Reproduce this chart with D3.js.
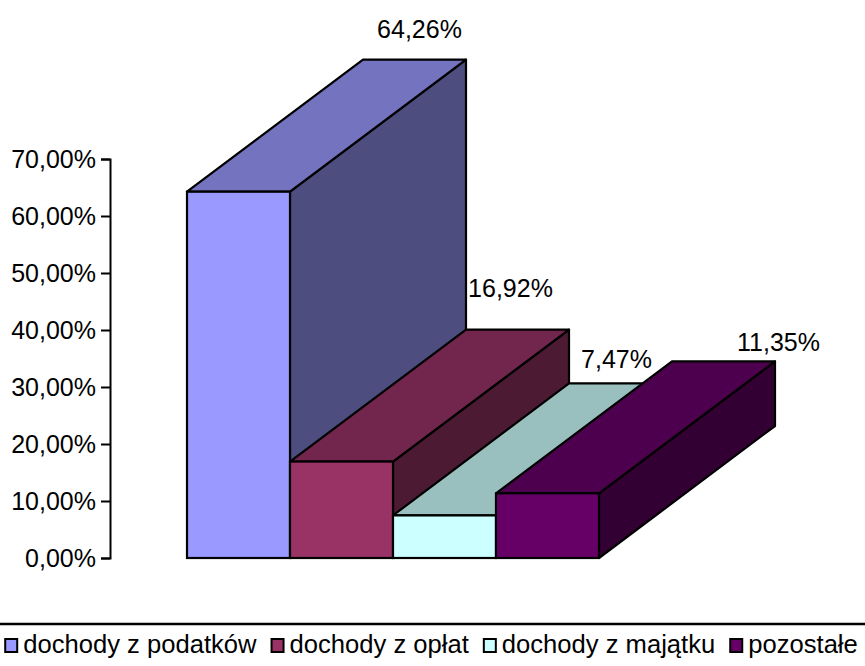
<!DOCTYPE html>
<html><head><meta charset="utf-8">
<script src="https://cdn.jsdelivr.net/npm/d3@7"></script>
<style>body{margin:0;background:#fff}svg{display:block}text{font-family:"Liberation Sans",Arial,sans-serif}</style>
</head><body>
<svg id="c" width="865" height="666"></svg>
<script>
const categories = ["dochody z podatków", "dochody z opłat", "dochody z majątku", "pozostałe"];
const values = [0.6426, 0.1692, 0.0747, 0.1135];
const valueLabels = ["64,26%", "16,92%", "7,47%", "11,35%"];
const yTicks = [0, 0.1, 0.2, 0.3, 0.4, 0.5, 0.6, 0.7];

const frontColors = ["#9999FF", "#993366", "#CCFFFF", "#660066"];
const labelNudge = [[5, -22], [-7, -33], [-4, -15], [55, -10]];

const svg = d3.select("#c");
const depthX = 176, depthY = -132;
const y = d3.scaleLinear().domain([0, 0.7]).range([558, 159]);
const x = d3.scaleBand().domain(categories).range([187, 599]).padding(0);
const shade = (c, k) => { const r = d3.rgb(c); return d3.rgb(r.r * k, r.g * k, r.b * k).formatHex(); };

const locale = d3.formatLocale({decimal: ",", thousands: " ", grouping: [3], currency: ["", " zł"]});
const fmt = locale.format(".2%");

// axis
const ax = svg.append("g").attr("transform", "translate(110,0)")
  .call(d3.axisLeft(y).tickValues(yTicks).tickFormat(fmt).tickSize(9).tickSizeOuter(9).tickPadding(5));
ax.selectAll("path,line").attr("stroke", "#000").attr("stroke-width", 2);
ax.selectAll("text").attr("font-size", 25).attr("fill", "#000").attr("font-family", '"Liberation Sans",Arial,sans-serif');

// bars
const g = svg.append("g");
categories.forEach((c, i) => {
  const x0 = x(c), x1 = x(c) + x.bandwidth();
  const yt = y(values[i]), yb = y(0);
  const col = frontColors[i];
  const poly = pts => pts.map(p => p.join(",")).join(" ");
  g.append("polygon").attr("points", poly([[x1, yb], [x1 + depthX, yb + depthY], [x1 + depthX, yt + depthY], [x1, yt]]))
    .attr("fill", shade(col, 0.5)).attr("stroke", "#000").attr("stroke-width", 2.2).attr("stroke-linejoin", "round");
  g.append("polygon").attr("points", poly([[x0, yt], [x1, yt], [x1 + depthX, yt + depthY], [x0 + depthX, yt + depthY]]))
    .attr("fill", shade(col, 0.75)).attr("stroke", "#000").attr("stroke-width", 2.2).attr("stroke-linejoin", "round");
  g.append("rect").attr("x", x0).attr("y", yt).attr("width", x1 - x0).attr("height", yb - yt)
    .attr("fill", col).attr("stroke", "#000").attr("stroke-width", 2.2);
});

// value labels
categories.forEach((c, i) => {
  const cx = x(c) + x.bandwidth() / 2 + depthX;
  const cy = y(values[i]) + depthY;
  svg.append("text").attr("x", cx + labelNudge[i][0]).attr("y", cy + labelNudge[i][1])
    .attr("text-anchor", "middle").attr("font-size", 25).attr("fill", "#000").text(valueLabels[i]);
});

// legend
svg.append("line").attr("x1", 0).attr("x2", 865).attr("y1", 624).attr("y2", 624).attr("stroke", "#000").attr("stroke-width", 2.5);
const lg = svg.append("g");
let cur = 0;
categories.forEach((c, i) => {
  const it = lg.append("g");
  it.append("rect").attr("x", cur + 1).attr("y", 639).attr("width", 12).attr("height", 13)
    .attr("fill", frontColors[i]).attr("stroke", "#000").attr("stroke-width", 2);
  const t = it.append("text").attr("x", cur + 19).attr("y", 653).attr("font-size", 25.6).attr("fill", "#000").text(c);
  const w = t.node().getComputedTextLength();
  cur += 19 + w + 14;
});
const total = cur - 14;
lg.attr("transform", `translate(${Math.max(0, 431 - total / 2)},0)`);
</script>
</body></html>
